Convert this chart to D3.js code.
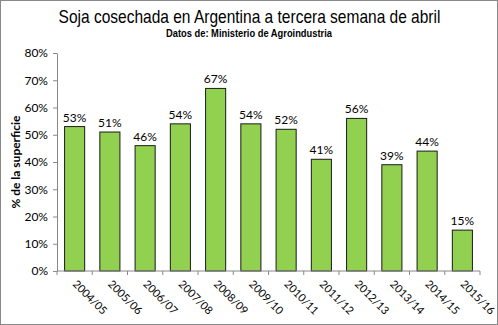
<!DOCTYPE html>
<html><head><meta charset="utf-8">
<script src="https://cdn.jsdelivr.net/npm/d3@7"></script>
<style>body{margin:0;background:#fff}svg{display:block}</style>
</head><body>
<script>
const categories = ["2004/05","2005/06","2006/07","2007/08","2008/09","2009/10","2010/11","2011/12","2012/13","2013/14","2014/15","2015/16"];
const values = [53,51,46,54,67,54,52,41,56,39,44,15];
const yTicks = [0,10,20,30,40,50,60,70,80];
const title = "Soja cosechada en Argentina a tercera semana de abril";
const subtitle = "Datos de: Ministerio de Agroindustria";
const yTitle = "% de la superficie";

(function(){
const W = 498, H = 325;
const svg = d3.select("body").append("svg").attr("width", W).attr("height", H);
svg.append("rect").attr("x",0.5).attr("y",0.5).attr("width",W-1).attr("height",H-1)
  .attr("fill","#fff").attr("stroke","#888").attr("stroke-width",1);

const mL = 57, mR = 480, mT = 53, mB = 271;
const x = d3.scaleBand().domain(categories).range([mL,mR]).paddingInner(0.43).paddingOuter(0.215);
const xb = d3.scaleBand().domain(categories).range([mL,mR]);
const y = d3.scaleLinear().domain([0,80]).range([mB,mT]);
const font = "Lato, 'Open Sans', sans-serif";

// y axis
const ya = svg.append("g").attr("transform",`translate(${mL},0)`)
  .call(d3.axisLeft(y).tickValues(yTicks).tickFormat(d=>d+"%").tickSize(4).tickSizeOuter(0));
ya.select(".domain").attr("stroke","#888");
ya.selectAll(".tick line").attr("stroke","#888");
ya.selectAll("text").attr("font-family",font).attr("font-size",12).attr("fill","#000").attr("dx",-2);

// bars
svg.selectAll("rect.bar").data(values).enter().append("rect").attr("class","bar")
  .attr("x",(d,i)=>x(categories[i])).attr("width",x.bandwidth())
  .attr("y",d=>y(d)).attr("height",d=>mB-y(d))
  .attr("fill","#92D050").attr("stroke","#1a1a1a").attr("stroke-width",1);

// data labels
svg.selectAll("text.lbl").data(values).enter().append("text").attr("class","lbl")
  .attr("x",(d,i)=>x(categories[i])+x.bandwidth()/2).attr("y",d=>y(d)-5)
  .attr("text-anchor","middle").attr("font-family",font).attr("font-size",12)
  .text(d=>d+"%");

// x axis
const xa = svg.append("g").attr("transform",`translate(0,${mB})`);
xa.append("line").attr("x1",mL).attr("x2",mR).attr("stroke","#888");
const bounds = categories.map(c=>xb(c)).concat([mR]);
xa.selectAll("line.tk").data(bounds).enter().append("line").attr("class","tk")
  .attr("x1",d=>d).attr("x2",d=>d).attr("y1",0).attr("y2",4).attr("stroke","#888");
xa.selectAll("text").data(categories).enter().append("text")
  .attr("transform",d=>`translate(${xb(d)+xb.bandwidth()/2},${11}) rotate(45)`)
  .attr("font-family",font).attr("font-size",11)
  .attr("dy","0.35em").text(d=>d);

// fit text horizontally using a scale transform
function fitted(cx, cy, w, size, weight, txt){
  const g = svg.append("g");
  const t = g.append("text").attr("text-anchor","middle")
    .attr("font-family","'Liberation Sans', Arial, sans-serif").attr("font-size",size)
    .attr("font-weight",weight).text(txt);
  const L = t.node().getComputedTextLength();
  g.attr("transform",`translate(${cx},${cy}) scale(${w/L},1)`);
}
fitted(249.5, 23, 382, 18.5, "normal", title);
fitted(249, 37, 166, 10.5, "bold", subtitle);

svg.append("text").attr("transform",`translate(20,162) rotate(-90)`).attr("text-anchor","middle")
  .attr("font-family",font).attr("font-weight","bold").attr("font-size",12).text(yTitle);
})();
</script>
</body></html>
